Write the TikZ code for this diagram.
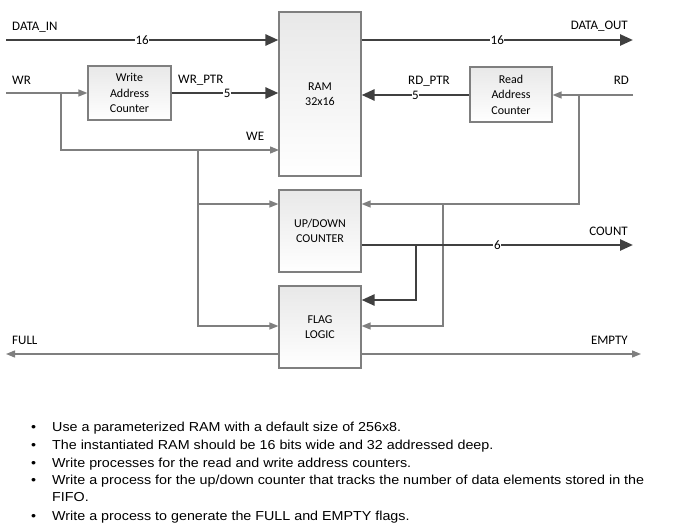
\documentclass[tikz,border=0pt]{standalone}
\usepackage{fontspec}
\setmainfont{Carlito}
\newfontfamily\bulletfont[FakeStretch=1.1]{Liberation Sans}
\usetikzlibrary{arrows.meta}
\definecolor{thinline}{HTML}{7F7F7F}
\definecolor{thickline}{HTML}{404040}
\definecolor{boxline}{HTML}{7F7F7F}
\tikzset{
  blk/.style={draw=boxline, line width=1.2pt, top color=black!9, bottom color=white, minimum width=82pt, align=center, inner sep=0pt, font=\fontsize{12}{15.5}\selectfont},
  thin/.style={draw=thinline, line width=1.3pt},
  thinarr/.style={thin, -{Triangle[length=9pt,width=7pt]}},
  thick/.style={draw=thickline, line width=2.6pt},
  thickarr/.style={thick, -{Triangle[length=13pt,width=11pt]}},
  lbl/.style={font=\fontsize{13}{15}\selectfont, inner sep=0pt},
  bus/.style={font=\fontsize{13}{15}\selectfont, fill=white, inner sep=0.6pt},
  bul/.style={font=\bulletfont\fontsize{13}{15}\selectfont, anchor=base west, inner sep=0pt},
}
\begin{document}
\begin{tikzpicture}[x=1pt,y=-1pt]
\useasboundingbox (0,0) rectangle (674,524);
% blocks
\node[blk, minimum height=164pt] (ram) at (320,94) {RAM\\32x16};
\node[blk, minimum width=83pt, minimum height=54pt] (wac) at (129.5,93) {Write\\Address\\Counter};
\node[blk, minimum height=55pt] (rac) at (511,94.5) {Read\\Address\\Counter};
\node[blk, minimum height=82pt] (udc) at (320,231) {UP/DOWN\\COUNTER};
\node[blk, minimum height=82pt] (flag) at (320,327) {FLAG\\LOGIC};
% coordinates
\coordinate (din) at (6,40);
\coordinate (dout) at (633,40);
\coordinate (wr) at (6,93);
\coordinate (wrb) at (61,93);
\coordinate (we) at (279,150);
\coordinate (web) at (198,150);
\coordinate (rd) at (633,95);
\coordinate (rdb) at (579,95);
\coordinate (rdu) at (579,204);
\coordinate (rdf) at (443,204);
\coordinate (cnt) at (633,245);
\coordinate (cntb) at (416,245);
\coordinate (full) at (6,354);
\coordinate (empty) at (641,354);
% data
\draw[thickarr] (din) -- (din -| ram.west) node[bus, pos=0.5] {16};
\draw[thickarr] (dout -| ram.east) -- (dout) node[bus, pos=0.5] {16};
% write side
\draw[thinarr] (wr) -- (wac.west);
\draw[thickarr] (wac.east) -- (wac.east -| ram.west) node[bus, pos=0.52] {5};
\draw[thinarr] (wrb) |- (we);
\draw[thinarr] (web) |- (udc.west |- rdu);
\draw[thinarr] (web) |- (flag.west |- 0,326);
% read side
\draw[thinarr] (rd) -- (rac.east |- rd);
\draw[thickarr] (rac.west |- rd) -- (ram.east |- rd) node[bus, pos=0.5] {5};
\draw[thinarr] (rdb) -- (rdu) -- (udc.east |- rdu);
\draw[thinarr] (rdf) |- (flag.east |- 0,326);
% count
\draw[thickarr] (udc.east |- cnt) -- (cnt) node[bus, pos=0.5] {6};
\draw[thickarr] (cntb) |- (flag.east |- 0,300);
% flags
\draw[thinarr] (flag.west |- full) -- (full);
\draw[thinarr] (flag.east |- empty) -- (empty);
% labels
\node[lbl, anchor=west] (ldin) at (12,27) {DATA\_IN};
\node[lbl, anchor=east] (ldout) at (628,26) {DATA\_OUT};
\node[lbl, anchor=west] (lwr) at (12,80) {WR};
\node[lbl, anchor=west] (lwrp) at (178,80) {WR\_PTR};
\node[lbl, anchor=west] (lwe) at (246,136) {WE};
\node[lbl, anchor=west] (lrdp) at (408,81) {RD\_PTR};
\node[lbl, anchor=east] (lrd) at (629,80) {RD};
\node[lbl, anchor=east] (lcnt) at (628,231) {COUNT};
\node[lbl, anchor=west] (lfull) at (12,340) {FULL};
\node[lbl, anchor=east] (lempty) at (628,340) {EMPTY};
% bullet list
\foreach \yy/\tt [count=\i] in {
  431/{Use a parameterized RAM with a default size of 256x8.},
  449/{The instantiated RAM should be 16 bits wide and 32 addressed deep.},
  467/{Write processes for the read and write address counters.},
  484/{Write a process for the up/down counter that tracks the number of data elements stored in the},
  520/{Write a process to generate the FULL and EMPTY flags.}}{
  \node[bul] (b\i) at (52,\yy) {\tt};
  \node[bul] (d\i) at (31,\yy) {\textbullet};
}
\node[bul] (b4b) at (52,501) {FIFO.};
\end{tikzpicture}
\end{document}
